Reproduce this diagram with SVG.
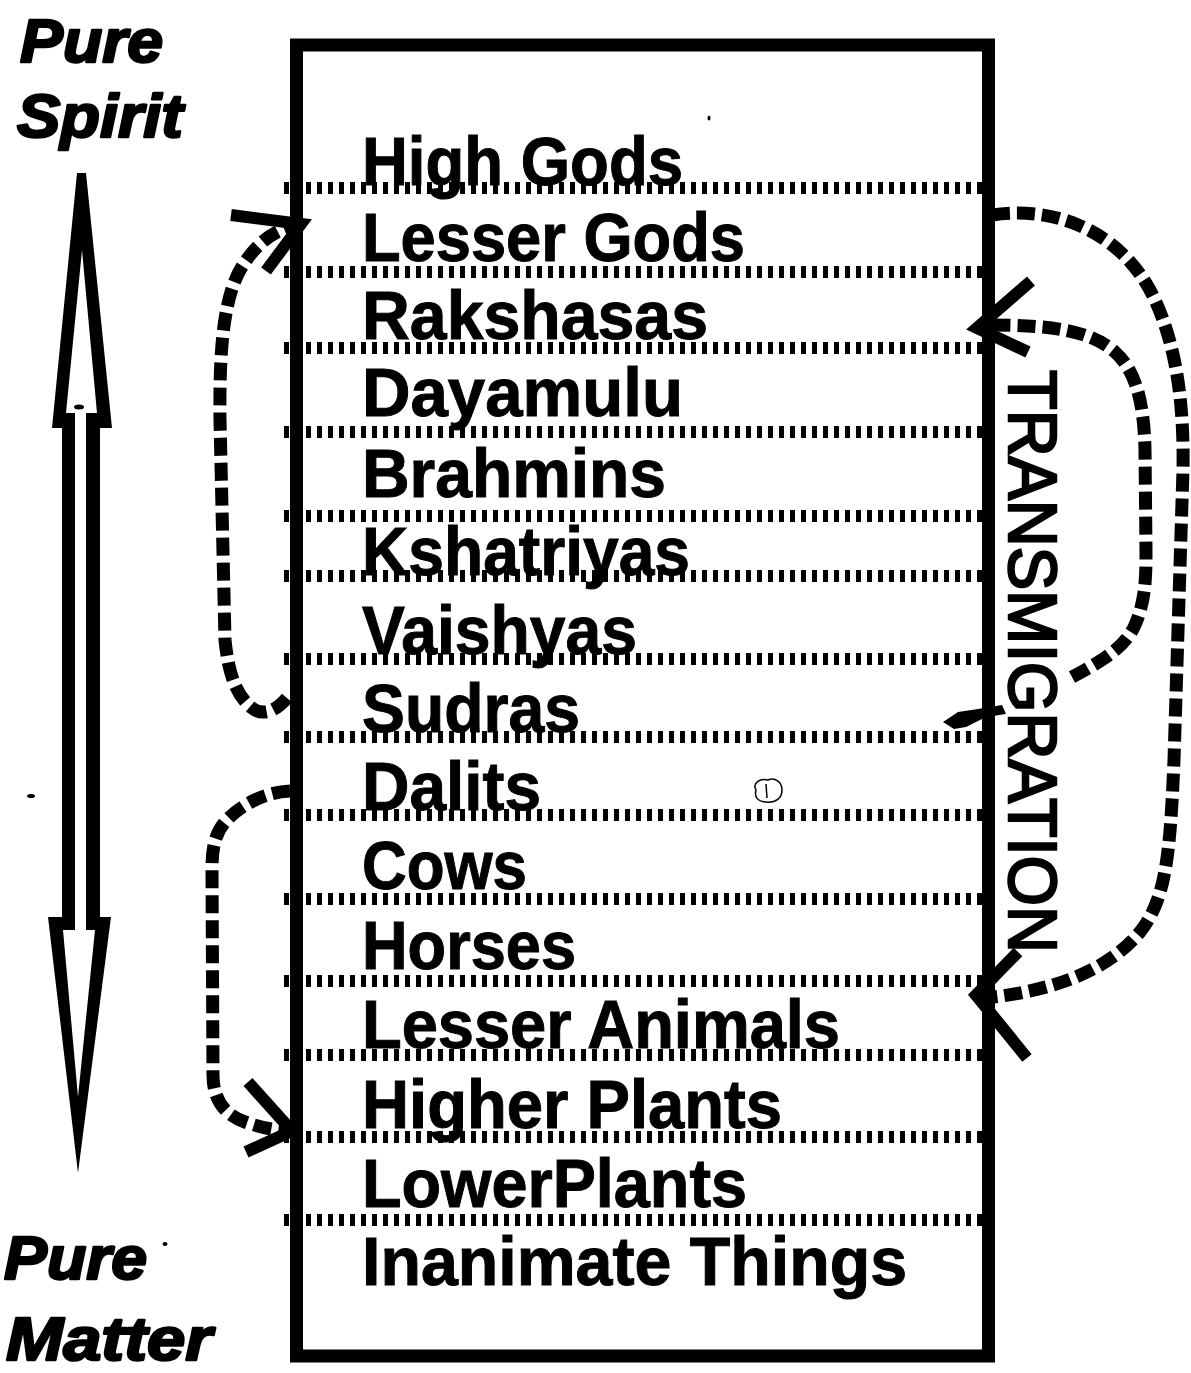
<svg xmlns="http://www.w3.org/2000/svg" width="1191" height="1373" viewBox="0 0 1191 1373">
  <style>
    .lbl { font-family: "Liberation Sans", Arial, sans-serif; font-weight: 700; font-size: 68px; fill: #000; stroke: #000; stroke-width: 1; }
    .pole { font-family: "Liberation Sans", Arial, sans-serif; font-weight: 700; font-style: italic; font-size: 62px; fill: #000; stroke: #000; stroke-width: 2.5; stroke-linejoin: round; }
    .vert { font-family: "Liberation Sans", Arial, sans-serif; font-weight: 400; font-size: 68px; fill: #000; stroke: #000; stroke-width: 2.5; }
    .dots { stroke: #000; stroke-width: 12; stroke-dasharray: 5 6; fill: none; }
    .flow { stroke: #000; stroke-width: 13; stroke-dasharray: 18 7; fill: none; }
    .head { stroke: #000; stroke-width: 12; fill: none; stroke-linejoin: miter; }
  </style>
  <rect width="1191" height="1373" fill="#fff"/>

  <g id="pole-spirit">
    <text class="pole" x="20" y="62" textLength="143" lengthAdjust="spacingAndGlyphs">Pure</text>
    <text class="pole" x="17" y="137" textLength="166" lengthAdjust="spacingAndGlyphs">Spirit</text>
  </g>
  <g id="pole-matter">
    <text class="pole" x="4" y="1279" textLength="143" lengthAdjust="spacingAndGlyphs">Pure</text>
    <text class="pole" x="6" y="1360" textLength="206" lengthAdjust="spacingAndGlyphs">Matter</text>
  </g>

  <g id="spectrum-arrow">
    <polygon points="77,173 86,173 112,428 100,428 100,917 111,917 78,1173 48,917 62,917 62,428 52,428" fill="#000"/>
    <polygon points="82,250 97,413 86,413 86,930 95,930 78,1097 63,930 75,930 75,413 66,413" fill="#fff"/>
    <ellipse cx="79" cy="407" rx="5" ry="2.5" fill="#000"/>
  </g>

  <g id="hierarchy-box">
    <rect x="296.5" y="45" width="692" height="1311" fill="none" stroke="#000" stroke-width="13"/>
  </g>

  <g id="separators">
    <line class="dots" x1="284" y1="188" x2="982" y2="188"/>
    <line class="dots" x1="284" y1="272" x2="982" y2="272"/>
    <line class="dots" x1="284" y1="348" x2="982" y2="348"/>
    <line class="dots" x1="284" y1="432" x2="982" y2="432"/>
    <line class="dots" x1="284" y1="516" x2="982" y2="516"/>
    <line class="dots" x1="284" y1="576" x2="982" y2="576"/>
    <line class="dots" x1="284" y1="659" x2="982" y2="659"/>
    <line class="dots" x1="284" y1="737" x2="982" y2="737"/>
    <line class="dots" x1="284" y1="815" x2="982" y2="815"/>
    <line class="dots" x1="284" y1="899" x2="982" y2="899"/>
    <line class="dots" x1="284" y1="981" x2="982" y2="981"/>
    <line class="dots" x1="284" y1="1055" x2="982" y2="1055"/>
    <line class="dots" x1="284" y1="1137" x2="982" y2="1137"/>
    <line class="dots" x1="284" y1="1220" x2="982" y2="1220"/>
  </g>

  <g id="level-high-gods"><text class="lbl" x="362" y="185" textLength="321" lengthAdjust="spacingAndGlyphs">High Gods</text></g>
  <g id="level-lesser-gods"><text class="lbl" x="362" y="261" textLength="383" lengthAdjust="spacingAndGlyphs">Lesser Gods</text></g>
  <g id="level-rakshasas"><text class="lbl" x="362" y="339" textLength="346" lengthAdjust="spacingAndGlyphs">Rakshasas</text></g>
  <g id="level-dayamulu"><text class="lbl" x="362" y="416" textLength="321" lengthAdjust="spacingAndGlyphs">Dayamulu</text></g>
  <g id="level-brahmins"><text class="lbl" x="362" y="497" textLength="304" lengthAdjust="spacingAndGlyphs">Brahmins</text></g>
  <g id="level-kshatriyas"><text class="lbl" x="362" y="575" textLength="328" lengthAdjust="spacingAndGlyphs">Kshatriyas</text></g>
  <g id="level-vaishyas"><text class="lbl" x="362" y="654" textLength="275" lengthAdjust="spacingAndGlyphs">Vaishyas</text></g>
  <g id="level-sudras"><text class="lbl" x="362" y="732" textLength="218" lengthAdjust="spacingAndGlyphs">Sudras</text></g>
  <g id="level-dalits"><text class="lbl" x="362" y="810" textLength="179" lengthAdjust="spacingAndGlyphs">Dalits</text></g>
  <g id="level-cows"><text class="lbl" x="362" y="889" textLength="165" lengthAdjust="spacingAndGlyphs">Cows</text></g>
  <g id="level-horses"><text class="lbl" x="362" y="969" textLength="214" lengthAdjust="spacingAndGlyphs">Horses</text></g>
  <g id="level-lesser-animals"><text class="lbl" x="362" y="1048" textLength="478" lengthAdjust="spacingAndGlyphs">Lesser Animals</text></g>
  <g id="level-higher-plants"><text class="lbl" x="362" y="1128" textLength="420" lengthAdjust="spacingAndGlyphs">Higher Plants</text></g>
  <g id="level-lower-plants"><text class="lbl" x="362" y="1207" textLength="385" lengthAdjust="spacingAndGlyphs">LowerPlants</text></g>
  <g id="level-inanimate"><text class="lbl" x="362" y="1285" textLength="545" lengthAdjust="spacingAndGlyphs">Inanimate Things</text></g>

  <g id="transmigration-label">
    <text class="vert" transform="translate(1009,370) rotate(90)" x="0" y="0" textLength="583" lengthAdjust="spacingAndGlyphs">TRANSMIGRATION</text>
  </g>

  <g id="connectors">
    <!-- Sudras up to Lesser Gods (left) -->
    <path class="flow" d="M 287,698 C 275,712 262,716 252,708 C 235,695 228,670 225,640 L 220,420 C 219,340 225,290 245,262 C 258,243 272,232 292,226"/>
    <polyline class="head" points="231,215 301,224 266,271"/>
    <!-- Dalits down to Higher Plants (left) -->
    <path class="flow" d="M 290,791 C 265,792 240,805 225,822 C 214,835 212,850 212,870 L 213,1075 C 213,1100 225,1115 245,1122 C 262,1128 275,1130 288,1131"/>
    <polyline class="head" points="248,1082 292,1131 246,1152"/>
    <!-- Lesser Gods down to Lesser Animals (right, outer) -->
    <path class="flow" d="M 992,215 C 1060,205 1125,235 1155,300 C 1178,350 1184,410 1183,470 L 1174,760 C 1170,860 1165,900 1140,932 C 1110,968 1060,990 985,998"/>
    <polyline class="head" points="1018,952 976,995 1027,1058"/>
    <!-- Sudras up to Rakshasas (right, inner) -->
    <path class="flow" d="M 1072,677 C 1100,662 1125,648 1135,625 C 1146,600 1146,575 1146,550 L 1145,450 C 1144,400 1135,370 1115,352 C 1090,330 1050,325 990,325"/>
    <polyline class="head" points="1031,281 977,328 1028,352"/>
    <polygon points="943,722 958,712 978,709 1002,705 1006,714 986,717 966,727 954,729" fill="#000"/>
  </g>

  <g id="specks" fill="#000">
    <path d="M 756,790 C 752,783 760,778 768,780 C 775,777 782,782 782,790 C 782,798 776,803 766,802 C 758,802 754,797 756,790 Z M 766,784 L 767,798" fill="none" stroke="#000" stroke-width="1.5"/>
    <ellipse cx="31" cy="796" rx="4" ry="2"/>
    <ellipse cx="165" cy="1244" rx="2.5" ry="2"/>
    <ellipse cx="709" cy="118" rx="1.5" ry="2.5"/>
  </g>
</svg>
